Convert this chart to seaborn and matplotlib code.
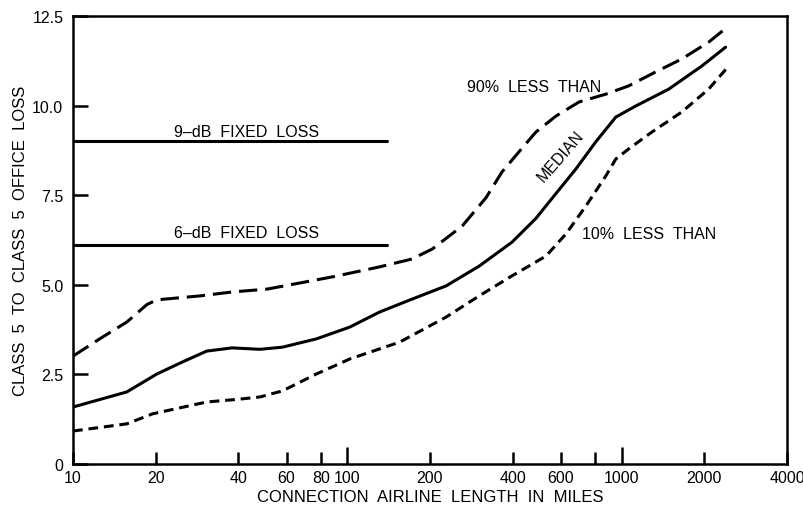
import matplotlib
matplotlib.use("Agg")
import matplotlib.pyplot as plt
import matplotlib.ticker as mticker
import numpy as np
import pandas as pd
import seaborn as sns

# ---- data ----
p90_miles = [10, 12.5, 15.7, 18.6, 20.2, 29, 38, 51, 67, 88, 117, 131, 172, 204, 262, 320, 366, 422, 486, 576, 698, 875, 1059, 1329, 1653, 2072, 2450]
p90_loss = [3.01, 3.49, 3.96, 4.45, 4.58, 4.69, 4.80, 4.88, 5.05, 5.22, 5.42, 5.50, 5.72, 6.00, 6.64, 7.43, 8.15, 8.71, 9.26, 9.71, 10.10, 10.32, 10.55, 10.94, 11.30, 11.77, 12.22]

med_miles = [10, 15.7, 20.2, 25.1, 30.7, 38, 48, 58, 77, 102, 131, 172, 229, 302, 398, 486, 576, 680, 804, 951, 1125, 1483, 1954, 2389]
med_loss = [1.59, 2.01, 2.51, 2.85, 3.15, 3.24, 3.20, 3.26, 3.49, 3.82, 4.24, 4.60, 4.97, 5.52, 6.19, 6.85, 7.55, 8.23, 8.99, 9.68, 9.99, 10.46, 11.10, 11.63]

p10_miles = [10, 15.7, 19.5, 30.7, 40.5, 48, 58, 77, 102, 155, 229, 302, 398, 529, 626, 740, 875, 951, 1059, 1286, 1653, 2072, 2450]
p10_loss = [0.92, 1.12, 1.40, 1.73, 1.81, 1.87, 2.04, 2.51, 2.93, 3.40, 4.10, 4.69, 5.25, 5.80, 6.42, 7.20, 8.04, 8.51, 8.79, 9.26, 9.82, 10.46, 11.10]

fixed_miles = [10, 140]
fixed9_loss = [9.0, 9.0]
fixed6_loss = [6.1, 6.1]

x_ticks = [10, 20, 40, 60, 80, 100, 200, 400, 600, 800, 1000, 2000, 4000]
x_tick_labels = ["10", "20", "40", "60", "80", "100", "200", "400", "600", "", "1000", "2000", "4000"]
y_ticks = [0, 2.5, 5.0, 7.5, 10.0, 12.5]
y_tick_labels = ["0", "2.5", "5.0", "7.5", "10.0", "12.5"]

df = pd.concat([
    pd.DataFrame({"miles": p90_miles, "loss": p90_loss, "series": "90%"}),
    pd.DataFrame({"miles": med_miles, "loss": med_loss, "series": "median"}),
    pd.DataFrame({"miles": p10_miles, "loss": p10_loss, "series": "10%"}),
])
df_fixed = pd.concat([
    pd.DataFrame({"miles": fixed_miles, "loss": fixed9_loss, "series": "9dB"}),
    pd.DataFrame({"miles": fixed_miles, "loss": fixed6_loss, "series": "6dB"}),
])

sns.set_theme(style="ticks")
plt.rcParams["font.family"] = ["Liberation Sans", "DejaVu Sans"]
plt.rcParams["text.color"] = "black"
plt.rcParams["axes.labelcolor"] = "black"

fig = plt.figure(figsize=(8.04, 5.06), dpi=100)
ax = fig.add_axes([73 / 804, 41 / 506, 714 / 804, 448 / 506])

lw = 2.2
sns.lineplot(data=df, x="miles", y="loss", style="series",
             dashes={"90%": (6, 2.6), "median": "", "10%": (3.2, 1.9)},
             color="black", linewidth=lw, legend=False, ax=ax, sort=True)
sns.lineplot(data=df_fixed, x="miles", y="loss", units="series", estimator=None,
             color="black", linewidth=lw, legend=False, ax=ax)
for ln in ax.lines:
    ln.set_solid_joinstyle("round")
    ln.set_dash_joinstyle("round")

ax.set_xscale("log")
ax.set_xlim(10, 4000)
ax.set_ylim(0, 12.5)
ax.xaxis.set_major_locator(mticker.FixedLocator(x_ticks))
ax.xaxis.set_major_formatter(mticker.FixedFormatter(x_tick_labels))
ax.xaxis.set_minor_locator(mticker.NullLocator())
ax.yaxis.set_major_locator(mticker.FixedLocator(y_ticks))
ax.yaxis.set_major_formatter(mticker.FixedFormatter(y_tick_labels))
ax.yaxis.set_minor_locator(mticker.NullLocator())

fs = 11.5
ax.tick_params(axis="x", direction="in", length=8.6, width=1.8, pad=4, labelsize=fs,
               colors="black", labelcolor="black")
ax.tick_params(axis="y", direction="in", length=10.8, width=1.8, pad=7, labelsize=fs,
               colors="black", labelcolor="black")
for t, v in zip(ax.xaxis.get_major_ticks(), x_ticks):
    if v in (100, 1000):
        t.tick1line.set_markersize(12.2)

for s in ax.spines.values():
    s.set_linewidth(1.8)
    s.set_color("black")
    s.set_visible(True)

ax.set_xlabel("CONNECTION  AIRLINE  LENGTH  IN  MILES", fontsize=12, labelpad=3, color="black")
ax.set_ylabel("CLASS  5  TO  CLASS  5  OFFICE  LOSS", fontsize=12, labelpad=3, color="black")

ax.text(43, 9.29, "9\u2013dB  FIXED  LOSS", fontsize=fs, ha="center", va="center")
ax.text(43, 6.47, "6\u2013dB  FIXED  LOSS", fontsize=fs, ha="center", va="center")
ax.text(273, 10.52, "90%  LESS  THAN", fontsize=fs, ha="left", va="center")
ax.text(716, 6.42, "10%  LESS  THAN", fontsize=fs, ha="left", va="center")
ax.text(600, 8.6, "MEDIAN", fontsize=fs, ha="center", va="center", rotation=49)

fig.savefig("out.png", dpi=100, facecolor="white")
